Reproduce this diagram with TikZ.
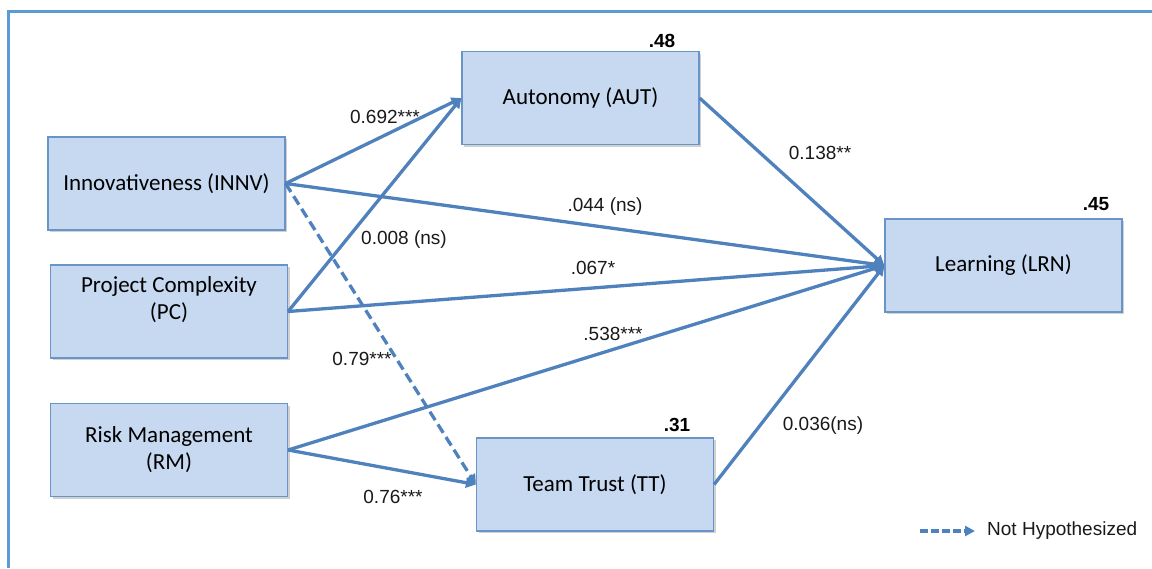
\documentclass[tikz,border=0pt]{standalone}
\usepackage{fontspec}
\setmainfont{Liberation Sans}
\newfontfamily\boxfont{Carlito}
\usetikzlibrary{arrows.meta,shadows}
\definecolor{linkblue}{HTML}{4F81BD}
\definecolor{boxfill}{HTML}{C6D9F1}
\definecolor{frameblue}{HTML}{5B9BD5}
\begin{document}
\begin{tikzpicture}[x=1pt,y=-1pt,
  box/.style={rectangle, draw=linkblue!85, line width=1.2pt, fill=boxfill, minimum width=237pt, minimum height=93pt, inner sep=0pt, align=center, font=\boxfont\fontsize{23}{27}\selectfont, drop shadow={shadow xshift=2pt, shadow yshift=-2pt, opacity=0.3, fill=black!60}},
  link/.style={draw=linkblue, line width=3.3pt, -{Triangle[length=10pt,width=10pt]}},
  nothyp/.style={dash pattern=on 10pt off 5pt},
  coef/.style={font=\fontsize{19}{22}\selectfont, inner sep=0pt, text=black!90},
  rsq/.style={font=\bfseries\fontsize{19}{22}\selectfont, inner sep=0pt}]
\useasboundingbox (0,0) rectangle (1152,568);
\draw[frameblue, line width=3pt] (1152,11) -- (8,11) -- (8,568);
% constructs
\node[box] (innv) at (166.5,183.5){Innovativeness (INNV)};
\node[box] (pc) at (169,311.5){Project Complexity\\(PC)\\\mbox{}};
\node[box] (rm) at (169,450){Risk Management\\(RM)};
\node[box] (aut) at (580.5,98){Autonomy (AUT)};
\node[box] (tt) at (595,484.5){Team Trust (TT)};
\node[box] (lrn) at (1003.5,265.5){Learning (LRN)};
% r-squared
\node[rsq] (aut2) at (662,41){.48};
\node[rsq] (lrn2) at (1096,204){.45};
\node[rsq] (tt2) at (677,425){.31};
% paths
\draw[link](innv.east) -- (aut.west);
\draw[link](pc.east) -- (aut.west);
\draw[link](innv.east) -- (lrn.west);
\draw[link](pc.east) -- (lrn.west);
\draw[link](rm.east) -- (lrn.west);
\draw[link](aut.east) -- (lrn.west);
\draw[link](tt.east) -- (lrn.west);
\draw[link](rm.east) -- (tt.west);
\draw[link, nothyp](innv.east) -- (tt.west);
% coefficients
\node[coef] (c1) at (385,117){0.692***};
\node[coef] (c2) at (404,240){0.008 (ns)};
\node[coef] (c3) at (605,207){.044 (ns)};
\node[coef] (c4) at (593,268){.067*};
\node[coef] (c5) at (613,334){.538***};
\node[coef] (c6) at (362,359){0.79***};
\node[coef] (c7) at (393,497){0.76***};
\node[coef] (c8) at (820,153){0.138**};
\node[coef] (c9) at (823,426){0.036(ns)};
% legend
\coordinate (leg0) at (920,531);
\coordinate (leg1) at (975,531);
\draw[link, dash pattern=on 8pt off 3pt](leg0) -- (leg1);
\node[coef, anchor=west] (legtxt) at (987,531){Not Hypothesized};
\end{tikzpicture}
\end{document}
